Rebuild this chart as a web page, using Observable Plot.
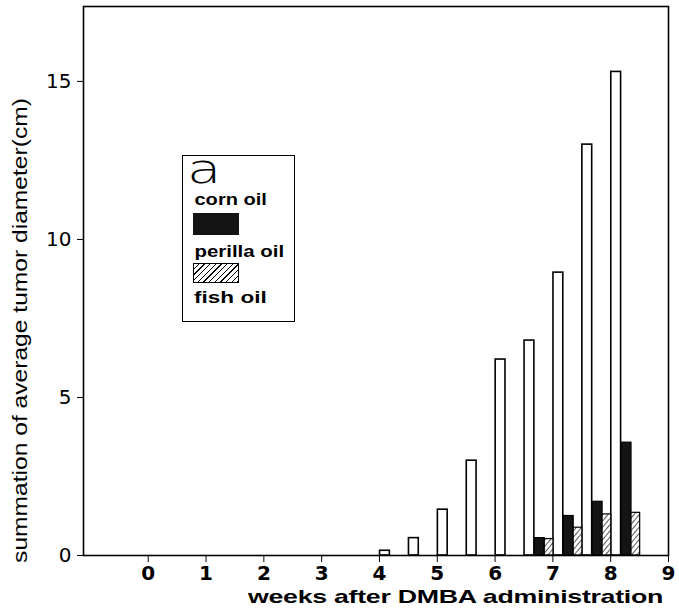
<!DOCTYPE html>
<html>
<head>
<meta charset="utf-8">
<script src="https://cdn.jsdelivr.net/npm/d3@7"></script>
<script src="https://cdn.jsdelivr.net/npm/@observablehq/plot@0.6"></script>
<style>
  html, body { margin: 0; padding: 0; background: #fff; }
  #wrap { position: relative; width: 679px; height: 609px; overflow: hidden; font-family: "Liberation Sans", Arial, sans-serif; color: #000; }
  #wrap svg { position: absolute; left: 0; top: 0; }
  .abs { position: absolute; white-space: nowrap; line-height: 1; }
</style>
</head>
<body>
<div id="wrap"></div>
<script>
// ---- data ----
const weeks      = [4, 4.5, 5, 5.5, 6, 6.5, 7, 7.5, 8];
const cornOil    = [0.15, 0.55, 1.45, 3.0, 6.2, 6.8, 8.95, 13.0, 15.3];
const perillaOil = [0, 0, 0, 0, 0, 0.55, 1.25, 1.7, 3.57];
const fishOil    = [0, 0, 0, 0, 0, 0.52, 0.88, 1.3, 1.35];
const xTicks = [0, 1, 2, 3, 4, 5, 6, 7, 8, 9];
const yTicks = [0, 5, 10, 15];
const seriesNames = ["corn oil", "perilla oil", "fish oil"];

// bar slot offsets within each half-week group (in weeks)
const slots = {"corn oil": [0.01, 0.18], "perilla oil": [0.19, 0.36], "fish oil": [0.36, 0.51]};
const seriesVals = {"corn oil": cornOil, "perilla oil": perillaOil, "fish oil": fishOil};

function rows(name) {
  return weeks.map((w, i) => ({week: w, value: seriesVals[name][i], x1: w + slots[name][0], x2: w + slots[name][1]}))
              .filter(d => d.value > 0);
}

const plot = Plot.plot({
  width: 679,
  height: 609,
  marginLeft: 83,
  marginRight: 11,
  marginTop: 6,
  marginBottom: 54,
  style: {fontFamily: "'DejaVu Sans', sans-serif", fontSize: "17px", background: "white", color: "black"},
  x: {domain: [-1.12, 9], ticks: xTicks, tickSize: 7, tickFormat: () => "", label: null},
  y: {domain: [0, 17.37], ticks: yTicks, tickSize: 6, tickFormat: () => "", label: null},
  marks: [
    Plot.rectY(rows("corn oil"), {x1: "x1", x2: "x2", y: "value", fill: "white", stroke: "black", strokeWidth: 1.6}),
    Plot.rectY(rows("perilla oil"), {x1: "x1", x2: "x2", y: "value", fill: "#141414", stroke: "black", strokeWidth: 1.2}),
    Plot.rectY(rows("fish oil"), {x1: "x1", x2: "x2", y: "value", fill: "url(#hatch)", stroke: "black", strokeWidth: 1.2}),
    Plot.frame({stroke: "black", strokeWidth: 1.6}),
    // tick labels
    Plot.text(xTicks, {x: d => d, y: 0, dy: 18, text: d => String(d), fontFamily: "'DejaVu Sans', sans-serif", fontWeight: "bold", fontSize: 20, fill: "black", lineAnchor: "middle"}),
    Plot.text(yTicks, {y: d => d, frameAnchor: "left", dx: -12, text: d => String(d), fontFamily: "'DejaVu Sans', sans-serif", fontSize: 20, fill: "black", textAnchor: "end", lineAnchor: "middle"})
  ]
});

// hatch pattern defs
const NS = "http://www.w3.org/2000/svg";
const defs = document.createElementNS(NS, "defs");
const pat = document.createElementNS(NS, "pattern");
pat.setAttribute("id", "hatch");
pat.setAttribute("patternUnits", "userSpaceOnUse");
pat.setAttribute("width", "4");
pat.setAttribute("height", "4");
pat.setAttribute("patternTransform", "rotate(40)");
const bg = document.createElementNS(NS, "rect");
bg.setAttribute("width", "4"); bg.setAttribute("height", "4"); bg.setAttribute("fill", "white");
const ln = document.createElementNS(NS, "line");
ln.setAttribute("x1", "0"); ln.setAttribute("y1", "0"); ln.setAttribute("x2", "0"); ln.setAttribute("y2", "4");
ln.setAttribute("stroke", "black"); ln.setAttribute("stroke-width", "1.3");
pat.appendChild(bg); pat.appendChild(ln); defs.appendChild(pat);
plot.insertBefore(defs, plot.firstChild);

const wrap = document.getElementById("wrap");
wrap.appendChild(plot);

// helper: text fitted to a target width, centred on (cx, cy), optional rotation
function fittedText(parent, txt, style, target, cx, cy, rotate) {
  const d = document.createElement("div");
  d.className = "abs";
  d.textContent = txt;
  Object.assign(d.style, style);
  parent.appendChild(d);
  const w = d.offsetWidth, h = d.offsetHeight;
  const k = target / w;
  d.style.left = (cx - w / 2) + "px";
  d.style.top = (cy - h / 2) + "px";
  d.style.transformOrigin = "50% 50%";
  d.style.transform = (rotate ? "rotate(" + rotate + "deg) " : "") + "scaleX(" + k + ")";
  return d;
}

// axis titles
fittedText(wrap, "summation of average tumor diameter(cm)",
  {fontFamily: "'Liberation Sans', Arial, sans-serif", fontSize: "21px"}, 465, 19, 330, -90);
fittedText(wrap, "weeks after DMBA administration",
  {fontFamily: "'Liberation Sans', Arial, sans-serif", fontWeight: "bold", fontSize: "19px", letterSpacing: "-0.2px"}, 415, 455, 596, 0);

// legend box
const lg = document.createElement("div");
Object.assign(lg.style, {position: "absolute", left: "182px", top: "155px", width: "113px", height: "167px", border: "1.5px solid black", background: "white", boxSizing: "border-box"});
wrap.appendChild(lg);

const lgFont = {fontFamily: "'Liberation Sans', Arial, sans-serif", fontWeight: "bold", fontSize: "17px"};
const aTxt = document.createElement("div");
aTxt.className = "abs";
aTxt.textContent = "a";
Object.assign(aTxt.style, {left: "4px", top: "-7px", fontFamily: "'DejaVu Sans', sans-serif", fontWeight: "200", fontSize: "40px", transform: "scaleX(1.4)", transformOrigin: "0 0"});
lg.appendChild(aTxt);
// legend labels, fitted to their widths in the reference (relative to box)
fittedText(lg, seriesNames[0], lgFont, 72, 11 + 36, 43, 0);
const sw1 = document.createElement("div");
Object.assign(sw1.style, {position: "absolute", left: "10px", top: "57px", width: "46px", height: "22px", background: "#141414"});
lg.appendChild(sw1);
fittedText(lg, seriesNames[1], lgFont, 90, 11 + 45, 95, 0);
const sw2 = document.createElement("div");
Object.assign(sw2.style, {position: "absolute", left: "10px", top: "107px", width: "46px", height: "20px", boxSizing: "border-box", border: "1px solid black",
  background: "repeating-linear-gradient(135deg, #fff 0 3px, #000 3px 4px)"});
lg.appendChild(sw2);
fittedText(lg, seriesNames[2], lgFont, 73, 11 + 36.5, 141, 0);
</script>
</body>
</html>
